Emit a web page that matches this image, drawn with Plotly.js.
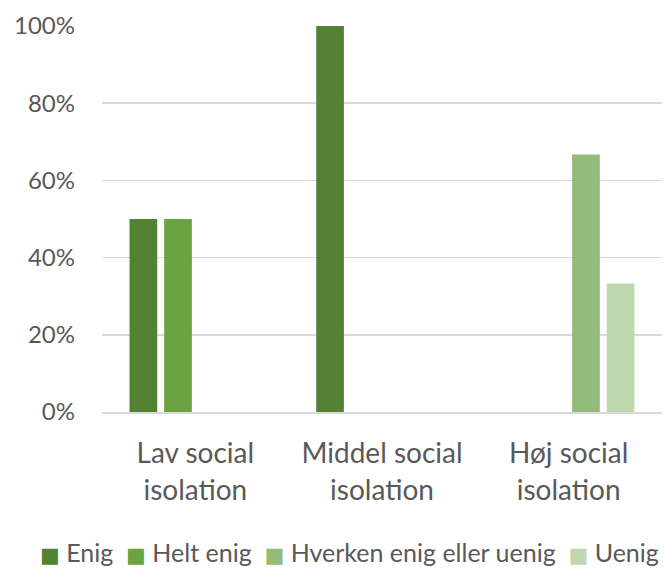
<!DOCTYPE html>
<html>
<head>
<meta charset="utf-8">
<script src="https://cdn.plot.ly/plotly-3.0.1.min.js"></script>
<style>
  html, body { margin: 0; padding: 0; background: #fff; }
  #chart { width: 665px; height: 569px; }
</style>
</head>
<body>
<div id="chart"></div>
<script>
// Andel af svar fordelt på grad af social isolation
const categories = ['Lav social<br>isolation', 'Middel social<br>isolation', 'Høj social<br>isolation'];
const seriesNames = ['Enig', 'Helt enig', 'Hverken enig eller uenig', 'Uenig'];
const enig = [50, 100, 0];
const heltEnig = [50, 0, 0];
const hverken = [0, 0, 66.7];
const uenig = [0, 0, 33.3];
const yTicks = [0, 20, 40, 60, 80, 100];

const colors = ['#548235', '#6aa342', '#93bb7a', '#bfd8b0'];
const values = [enig, heltEnig, hverken, uenig];

const traces = values.map((v, i) => ({
  type: 'bar',
  name: seriesNames[i],
  x: categories,
  y: v,
  marker: { color: colors[i], line: { width: 0 } },
  hoverinfo: 'skip',
  showlegend: false
}));

const textColor = '#595959';
const fontFamily = 'Lato, "Open Sans", sans-serif';

// Compact single-row key below the plot: coloured square + series name
const keyText = seriesNames.map((name, i) =>
  '<span style="color:' + colors[i] + ';font-family:DejaVu Sans;font-size:21px">■</span>\u00a0' + name
).join('\u00a0\u00a0');

const layout = {
  width: 665,
  height: 569,
  margin: { l: 102, r: 3, t: 26, b: 157 },
  paper_bgcolor: '#ffffff',
  plot_bgcolor: '#ffffff',
  font: { family: fontFamily, color: textColor, size: 24 },
  barmode: 'group',
  bargap: 0.258,
  bargroupgap: 0.2,
  showlegend: false,
  annotations: [{
    xref: 'paper',
    yref: 'paper',
    x: (349 - 102) / (665 - 105),
    y: -140 / 386,
    xanchor: 'center',
    yanchor: 'middle',
    showarrow: false,
    text: keyText,
    font: { size: 25, color: textColor, family: fontFamily }
  }],
  xaxis: {
    type: 'category',
    showgrid: false,
    showline: true,
    linecolor: '#d9d9d9',
    linewidth: 1.5,
    ticks: '',
    ticklabelstandoff: 16,
    tickfont: { size: 28, color: textColor },
    fixedrange: true
  },
  yaxis: {
    range: [0, 100],
    tickvals: yTicks,
    ticktext: yTicks.map(t => t + '%'),
    showgrid: true,
    gridcolor: '#d9d9d9',
    gridwidth: 1.5,
    zeroline: false,
    showline: false,
    ticks: '',
    ticklabelstandoff: 26,
    tickfont: { size: 24, color: textColor },
    fixedrange: true
  }
};

Plotly.newPlot('chart', traces, layout, { displayModeBar: false, staticPlot: true });
</script>
</body>
</html>
